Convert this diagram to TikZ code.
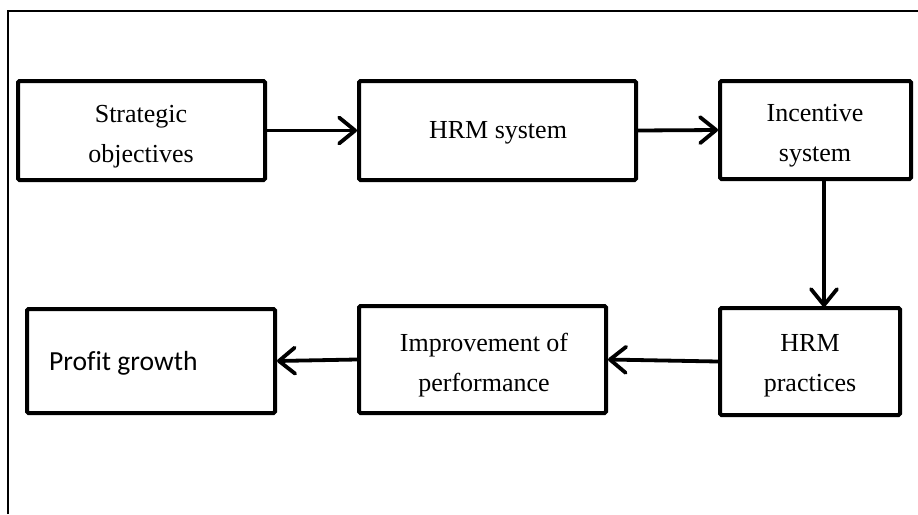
\documentclass[tikz,border=0pt]{standalone}
\usepackage{fontspec}
\setmainfont{Liberation Serif}
\newfontfamily\calibrilike[Ligatures=CommonOff]{Carlito}
\usetikzlibrary{arrows.meta}
\tikzset{
  box/.style={draw=black, line width=4pt, rounded corners=1.5pt, inner sep=0pt},
  txt/.style={inner sep=0pt, align=center, font=\fontsize{26}{40}\selectfont, anchor=base},
  ctxt/.style={inner sep=0pt, align=left, font=\calibrilike\fontsize{27.6}{33}\selectfont, anchor=base west},
  arr/.style={line width=3.8pt, -{Straight Barb[length=16pt, width=26pt, line cap=round, line join=round]}},
  frame/.style={line width=1.2pt}
}
\begin{document}
\begin{tikzpicture}[x=1pt, y=-1pt]
\useasboundingbox (0,0) rectangle (918,514);
% outer frame (top and left edges visible)
\draw[frame] (8,514) -- (8,11) -- (918,11);
% boxes
\node[box, minimum width=247pt, minimum height=99pt] (b1) at (141.5,130.5) {};
\node[box, minimum width=277pt, minimum height=99pt] (b2) at (497.5,130.5) {};
\node[box, minimum width=191pt, minimum height=98pt] (b3) at (815.5,130) {};
\node[box, minimum width=180pt, minimum height=107pt] (b4) at (810,361.5) {};
\node[box, minimum width=247pt, minimum height=107pt] (b5) at (482.5,359.5) {};
\node[box, minimum width=248pt, minimum height=104pt] (b6) at (151,361) {};
% texts (base anchor = baseline of the last line)
\node[txt] (t1) at (141,162) {Strategic\\objectives};
\node[txt] (t2) at (498,138.3) {HRM system};
\node[txt] (t3) at (815,161.7) {Incentive\\system};
\node[txt] (t4) at (810,391.7) {HRM\\practices};
\node[txt] (t5) at (484,391.7) {Improvement of\\performance};
\node[ctxt] (t6) at (49,370.7) {Profit growth};
% connectors
\coordinate (v) at (824,0);
\draw[arr] (b1.east) -- (b2.west);
\draw[arr] (b2.east) -- (b3.west);
\draw[arr] ([yshift=3pt]b3.south -| v) -- ([yshift=-1pt]b4.north -| v);
\draw[arr] (b4.west) -- (b5.east);
\draw[arr] (b5.west) -- (b6.east);
\end{tikzpicture}
\end{document}
